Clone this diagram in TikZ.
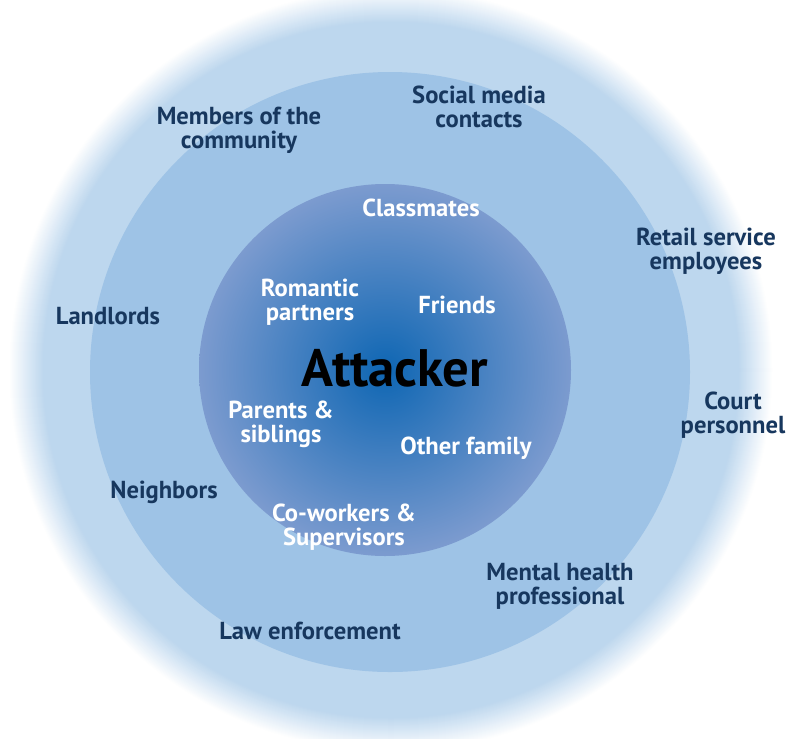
\documentclass[tikz,border=0pt]{standalone}
\usepackage{fontspec}
\setmainfont{PT Sans}
\usetikzlibrary{calc}

\definecolor{ringouter}{HTML}{BDD7EE}
\definecolor{ringmiddle}{HTML}{9EC3E6}
\definecolor{ringinner}{HTML}{7C9BCF}
\definecolor{glow}{HTML}{0E66B3}
\definecolor{navy}{HTML}{17375E}

\tikzset{
  outerlabel/.style = {font = \fontsize{14}{13.5}\selectfont\bfseries,
    text = navy, align = center, inner sep = 0},
  innerlabel/.style = {font = \fontsize{14}{13.5}\selectfont\bfseries,
    text = white, align = center, inner sep = 0}
}

\begin{document}
\begin{tikzpicture}[x = 0.02cm, y = -0.02cm]
  \useasboundingbox (0, 0) rectangle (791, 738);

  \begin{scope}
    \clip (0, 0) rectangle (791, 738);
    \coordinate (O) at (391, 370);
    \foreach \i in {0, ..., 34} {
      \pgfmathsetmacro{\mix}{100 * \i / 34}
      \fill[ringouter!\mix!white] (O) circle[radius = 382 - \i];
    }
  \end{scope}

  \fill[ringmiddle] (390, 372) circle[radius = 300];
  \shade[inner color = glow, outer color = ringinner] (385, 370)
  coordinate (C) circle[radius = 186];

  \node[outerlabel] (community) at (239, 130) {Members of the\\community};
  \node[outerlabel] (social) at (479, 107) {Social media\\contacts};
  \node[outerlabel] (retail) at (706, 251) {Retail service\\employees};
  \node[outerlabel] (landlords) at (108, 316) {Landlords};
  \node[outerlabel] (court) at (733, 415) {Court\\personnel};
  \node[outerlabel] (neighbors) at (164, 492) {Neighbors};
  \node[outerlabel] (mental) at (560, 586) {Mental health\\professional};
  \node[outerlabel] (law) at (310, 631) {Law enforcement};

  \node[innerlabel] (classmates) at (421, 208) {Classmates};
  \node[innerlabel] (romantic) at (310, 302) {Romantic\\partners};
  \node[innerlabel] (friends) at (457, 305) {Friends};
  \node[innerlabel] (parents) at (281, 424) {Parents \&\\siblings};
  \node[innerlabel] (family) at (466, 448) {Other family};
  \node[innerlabel] (coworkers) at (344, 527) {Co-workers \&\\Supervisors};

  \node[font = \fontsize{30}{30}\selectfont\bfseries, inner sep = 0]
  (attacker) at (395, 368) {Attacker};
\end{tikzpicture}
\end{document}
